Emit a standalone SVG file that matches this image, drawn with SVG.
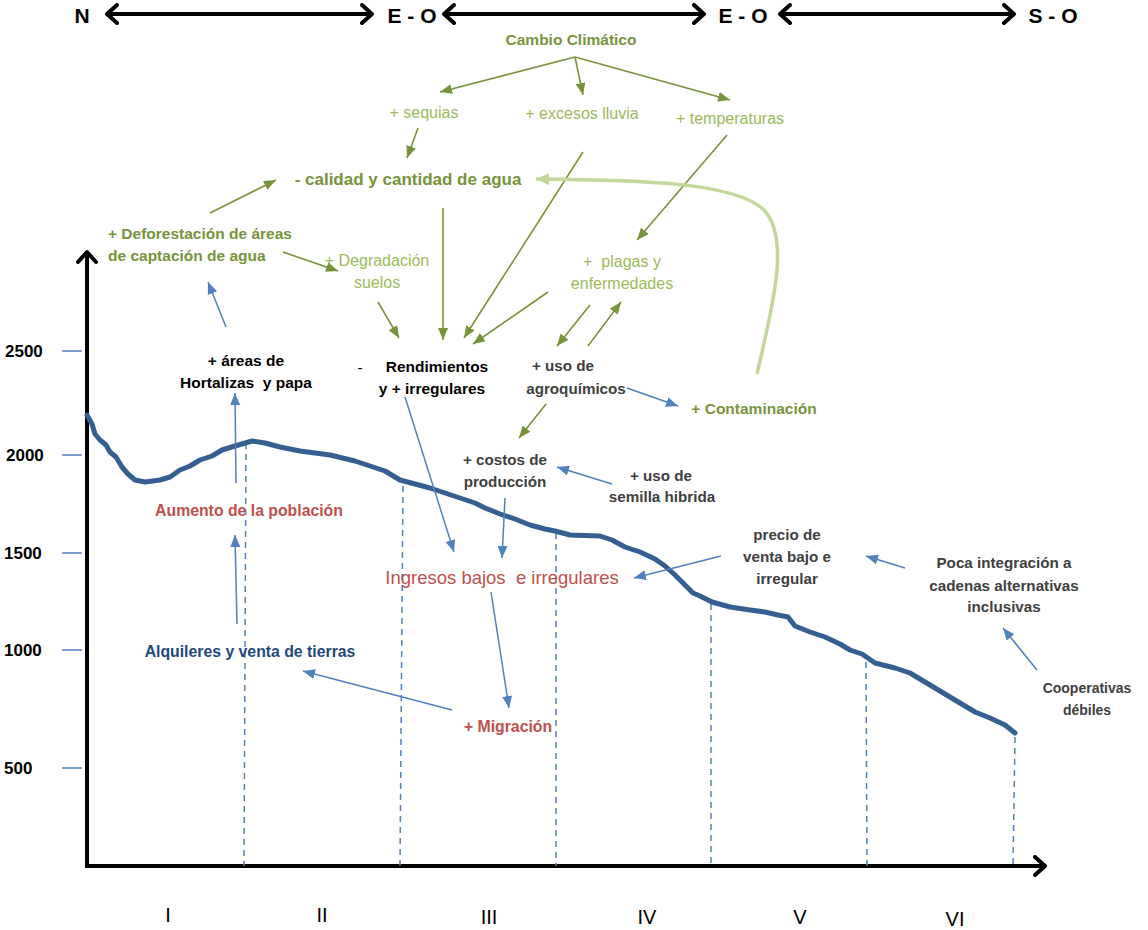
<svg xmlns="http://www.w3.org/2000/svg" width="1148" height="930" viewBox="0 0 1148 930">
<style>
text{font-family:"Liberation Sans",Arial,sans-serif;text-anchor:middle;white-space:pre}
.dir{font-size:21px;font-weight:bold;fill:#000}
.rom{font-size:20px;fill:#000}
.tick{font-size:17px;font-weight:bold;fill:#000;text-anchor:start}
.g{fill:#77933c;font-weight:bold;font-size:15.5px}
.lg{fill:#9bbb59;font-size:16px}
.k{fill:#000;font-weight:bold;font-size:15.5px}
.d{fill:#404040;font-weight:bold;font-size:15.2px}
.r{fill:#c0504d;font-weight:bold;font-size:15.8px}
.n{fill:#1f497d;font-weight:bold;font-size:15.8px}
.ga{stroke:#77933c;stroke-width:1.6;fill:none;marker-end:url(#hg)}
.ba{stroke:#4f81bd;stroke-width:1.5;fill:none;marker-end:url(#hb)}
.dash{stroke:#4f81bd;stroke-width:1.5;stroke-dasharray:6 5;fill:none}
.tk{stroke:#4f81bd;stroke-width:1.5}
</style>
<defs>
<marker id="hg" markerUnits="userSpaceOnUse" markerWidth="13" markerHeight="10" refX="12" refY="5" orient="auto"><path d="M0,0 L12,5 L0,10 z" fill="#77933c"/></marker>
<marker id="hb" markerUnits="userSpaceOnUse" markerWidth="13" markerHeight="10" refX="12" refY="5" orient="auto"><path d="M0,0 L12,5 L0,10 z" fill="#4f81bd"/></marker>
<marker id="hl" markerUnits="userSpaceOnUse" markerWidth="14" markerHeight="12" refX="13" refY="6" orient="auto"><path d="M0,0 L13,6 L0,12 z" fill="#c3d69b"/></marker>
<marker id="chev" markerUnits="userSpaceOnUse" markerWidth="16" markerHeight="22" refX="12" refY="11" orient="auto-start-reverse"><path d="M2,2 L12,11 L2,20" fill="none" stroke="#000" stroke-width="4" stroke-linecap="round" stroke-linejoin="round"/></marker>
</defs>

<g id="directions">
<line x1="107" y1="14" x2="372" y2="14" stroke="#000" stroke-width="4" marker-start="url(#chev)" marker-end="url(#chev)"/>
<line x1="444" y1="14" x2="704" y2="14" stroke="#000" stroke-width="4" marker-start="url(#chev)" marker-end="url(#chev)"/>
<line x1="780" y1="14" x2="1014" y2="14" stroke="#000" stroke-width="4" marker-start="url(#chev)" marker-end="url(#chev)"/>
<text class="dir" x="82" y="23">N</text>
<text class="dir" x="412" y="23">E - O</text>
<text class="dir" x="743" y="23">E - O</text>
<text class="dir" x="1053" y="23">S - O</text>
</g>

<g id="axes">
<line x1="87" y1="866" x2="87" y2="252" stroke="#000" stroke-width="4" marker-end="url(#chev)"/>
<line x1="85" y1="866" x2="1045" y2="866" stroke="#000" stroke-width="4" marker-end="url(#chev)"/>
<line class="tk" x1="62" y1="351" x2="82" y2="351"/>
<line class="tk" x1="62" y1="455" x2="82" y2="455"/>
<line class="tk" x1="62" y1="553" x2="82" y2="553"/>
<line class="tk" x1="62" y1="650" x2="82" y2="650"/>
<line class="tk" x1="62" y1="768" x2="82" y2="768"/>
<text class="tick" x="5" y="357">2500</text>
<text class="tick" x="6" y="461">2000</text>
<text class="tick" x="4" y="559">1500</text>
<text class="tick" x="4" y="656">1000</text>
<text class="tick" x="4" y="774">500</text>
<text class="rom" x="168" y="922">I</text>
<text class="rom" x="322" y="922">II</text>
<text class="rom" x="489" y="924">III</text>
<text class="rom" x="647" y="924">IV</text>
<text class="rom" x="800" y="924">V</text>
<text class="rom" x="955" y="926">VI</text>
</g>

<g id="zones">
<line class="dash" x1="246" y1="443" x2="244" y2="866"/>
<line class="dash" x1="403" y1="486" x2="400" y2="866"/>
<line class="dash" x1="556" y1="533" x2="556" y2="866"/>
<line class="dash" x1="711" y1="604" x2="711" y2="866"/>
<line class="dash" x1="866" y1="662" x2="867" y2="866"/>
<line class="dash" x1="1015" y1="737" x2="1013" y2="866"/>
</g>

<g id="profile">
<polyline fill="none" stroke="#365f91" stroke-width="5" stroke-linejoin="round" stroke-linecap="round" points="87,415 92,424 95,434 100,440 106,445 110,452 116,457 122,467 128,474 135,480 145,482 160,480 170,477 180,470 190,466 200,460 212,456 222,450 235,446 252,441 265,443 280,447 300,451 330,455 355,461 385,471 400,480 415,484 430,488 445,493 460,498 475,503 485,508 500,514 515,519 530,525 545,529 555,531 570,535 600,536 612,540 625,547 640,552 655,559 665,566 675,575 685,585 693,593 700,596 712,602 730,607 750,610 765,612 778,615 788,617 795,626 810,632 825,637 840,644 850,650 862,654 875,663 895,668 910,673 925,682 945,694 960,703 975,712 990,718 1005,725 1015,733"/>
</g>

<g id="connectors">
<line class="ga" x1="575" y1="57" x2="440" y2="92"/>
<line class="ga" x1="575" y1="57" x2="583" y2="95"/>
<line class="ga" x1="575" y1="57" x2="730" y2="100"/>
<line class="ga" x1="418" y1="128" x2="407" y2="158"/>
<line class="ga" x1="583" y1="152" x2="464" y2="338"/>
<line class="ga" x1="727" y1="135" x2="637" y2="240"/>
<line class="ga" x1="443" y1="208" x2="443" y2="340"/>
<line class="ga" x1="210" y1="213" x2="276" y2="180"/>
<line class="ga" x1="283" y1="252" x2="338" y2="271"/>
<line class="ga" x1="378" y1="302" x2="399" y2="338"/>
<line class="ga" x1="548" y1="292" x2="473" y2="344"/>
<line class="ga" x1="590" y1="305" x2="557" y2="346"/>
<line class="ga" x1="588" y1="346" x2="621" y2="302"/>
<line class="ga" x1="546" y1="404" x2="519" y2="438"/>
<path d="M757,374 C770,315 792,240 764,210 C735,182 640,180 536,179" fill="none" stroke="#c3d69b" stroke-width="3.5" marker-end="url(#hl)"/>
<line class="ba" x1="226" y1="327" x2="208" y2="282"/>
<line class="ba" x1="236" y1="483" x2="235" y2="393"/>
<line class="ba" x1="237" y1="624" x2="235" y2="535"/>
<line class="ba" x1="405" y1="397" x2="454" y2="552"/>
<line class="ba" x1="505" y1="498" x2="502" y2="558"/>
<line class="ba" x1="612" y1="484" x2="557" y2="467"/>
<line class="ba" x1="721" y1="556" x2="634" y2="578"/>
<line class="ba" x1="905" y1="568" x2="866" y2="556"/>
<line class="ba" x1="1037" y1="670" x2="1003" y2="628"/>
<line class="ba" x1="627" y1="388" x2="678" y2="406"/>
<line class="ba" x1="491" y1="592" x2="509" y2="708"/>
<line class="ba" x1="452" y1="710" x2="303" y2="671"/>
</g>

<g id="cambio"><text class="g" x="571" y="45">Cambio Climático</text></g>
<g id="sequias"><text class="lg" x="424" y="118">+ sequias</text></g>
<g id="lluvia"><text class="lg" x="582" y="119">+ excesos lluvia</text></g>
<g id="temperaturas"><text class="lg" x="730" y="124">+ temperaturas</text></g>
<g id="agua"><text class="g" x="408" y="185" style="font-size:17px">- calidad y cantidad de agua</text></g>
<g id="deforestacion"><text class="g" x="108" y="239" style="text-anchor:start">+ Deforestación de áreas</text><text class="g" x="108" y="261" style="text-anchor:start">de captación de agua</text></g>
<g id="degradacion"><text class="lg" x="377" y="266">+ Degradación</text><text class="lg" x="377" y="288">suelos</text></g>
<g id="plagas"><text class="lg" x="622" y="267">+  plagas y</text><text class="lg" x="622" y="289">enfermedades</text></g>
<g id="areas"><text class="k" x="246" y="366">+ áreas de</text><text class="k" x="246" y="388">Hortalizas  y papa</text></g>
<g id="rendimientos"><text class="k" x="360" y="373" style="font-weight:normal">-</text><text class="k" x="437" y="372">Rendimientos</text><text class="k" x="432" y="394">y + irregulares</text></g>
<g id="agroquimicos"><text class="d" x="563" y="371">+ uso de</text><text class="d" x="576" y="394">agroquímicos</text></g>
<g id="contaminacion"><text class="g" x="754" y="414">+ Contaminación</text></g>
<g id="costos"><text class="d" x="505" y="465">+ costos de</text><text class="d" x="505" y="487">producción</text></g>
<g id="semilla"><text class="d" x="661" y="481">+ uso de</text><text class="d" x="662" y="502">semilla hibrida</text></g>
<g id="poblacion"><text class="r" x="249" y="516">Aumento de la población</text></g>
<g id="ingresos"><text class="r" x="502" y="584" style="font-weight:normal;font-size:18.5px">Ingresos bajos  e irregulares</text></g>
<g id="precio"><text class="d" x="787" y="540">precio de</text><text class="d" x="787" y="562">venta bajo e</text><text class="d" x="787" y="584">irregular</text></g>
<g id="poca"><text class="d" x="1004" y="568">Poca integración a</text><text class="d" x="1004" y="591">cadenas alternativas</text><text class="d" x="1004" y="612">inclusivas</text></g>
<g id="cooperativas"><text class="d" x="1087" y="693" style="font-size:14px">Cooperativas</text><text class="d" x="1087" y="715" style="font-size:14px">débiles</text></g>
<g id="alquileres"><text class="n" x="250" y="657">Alquileres y venta de tierras</text></g>
<g id="migracion"><text class="r" x="508" y="732">+ Migración</text></g>
</svg>
